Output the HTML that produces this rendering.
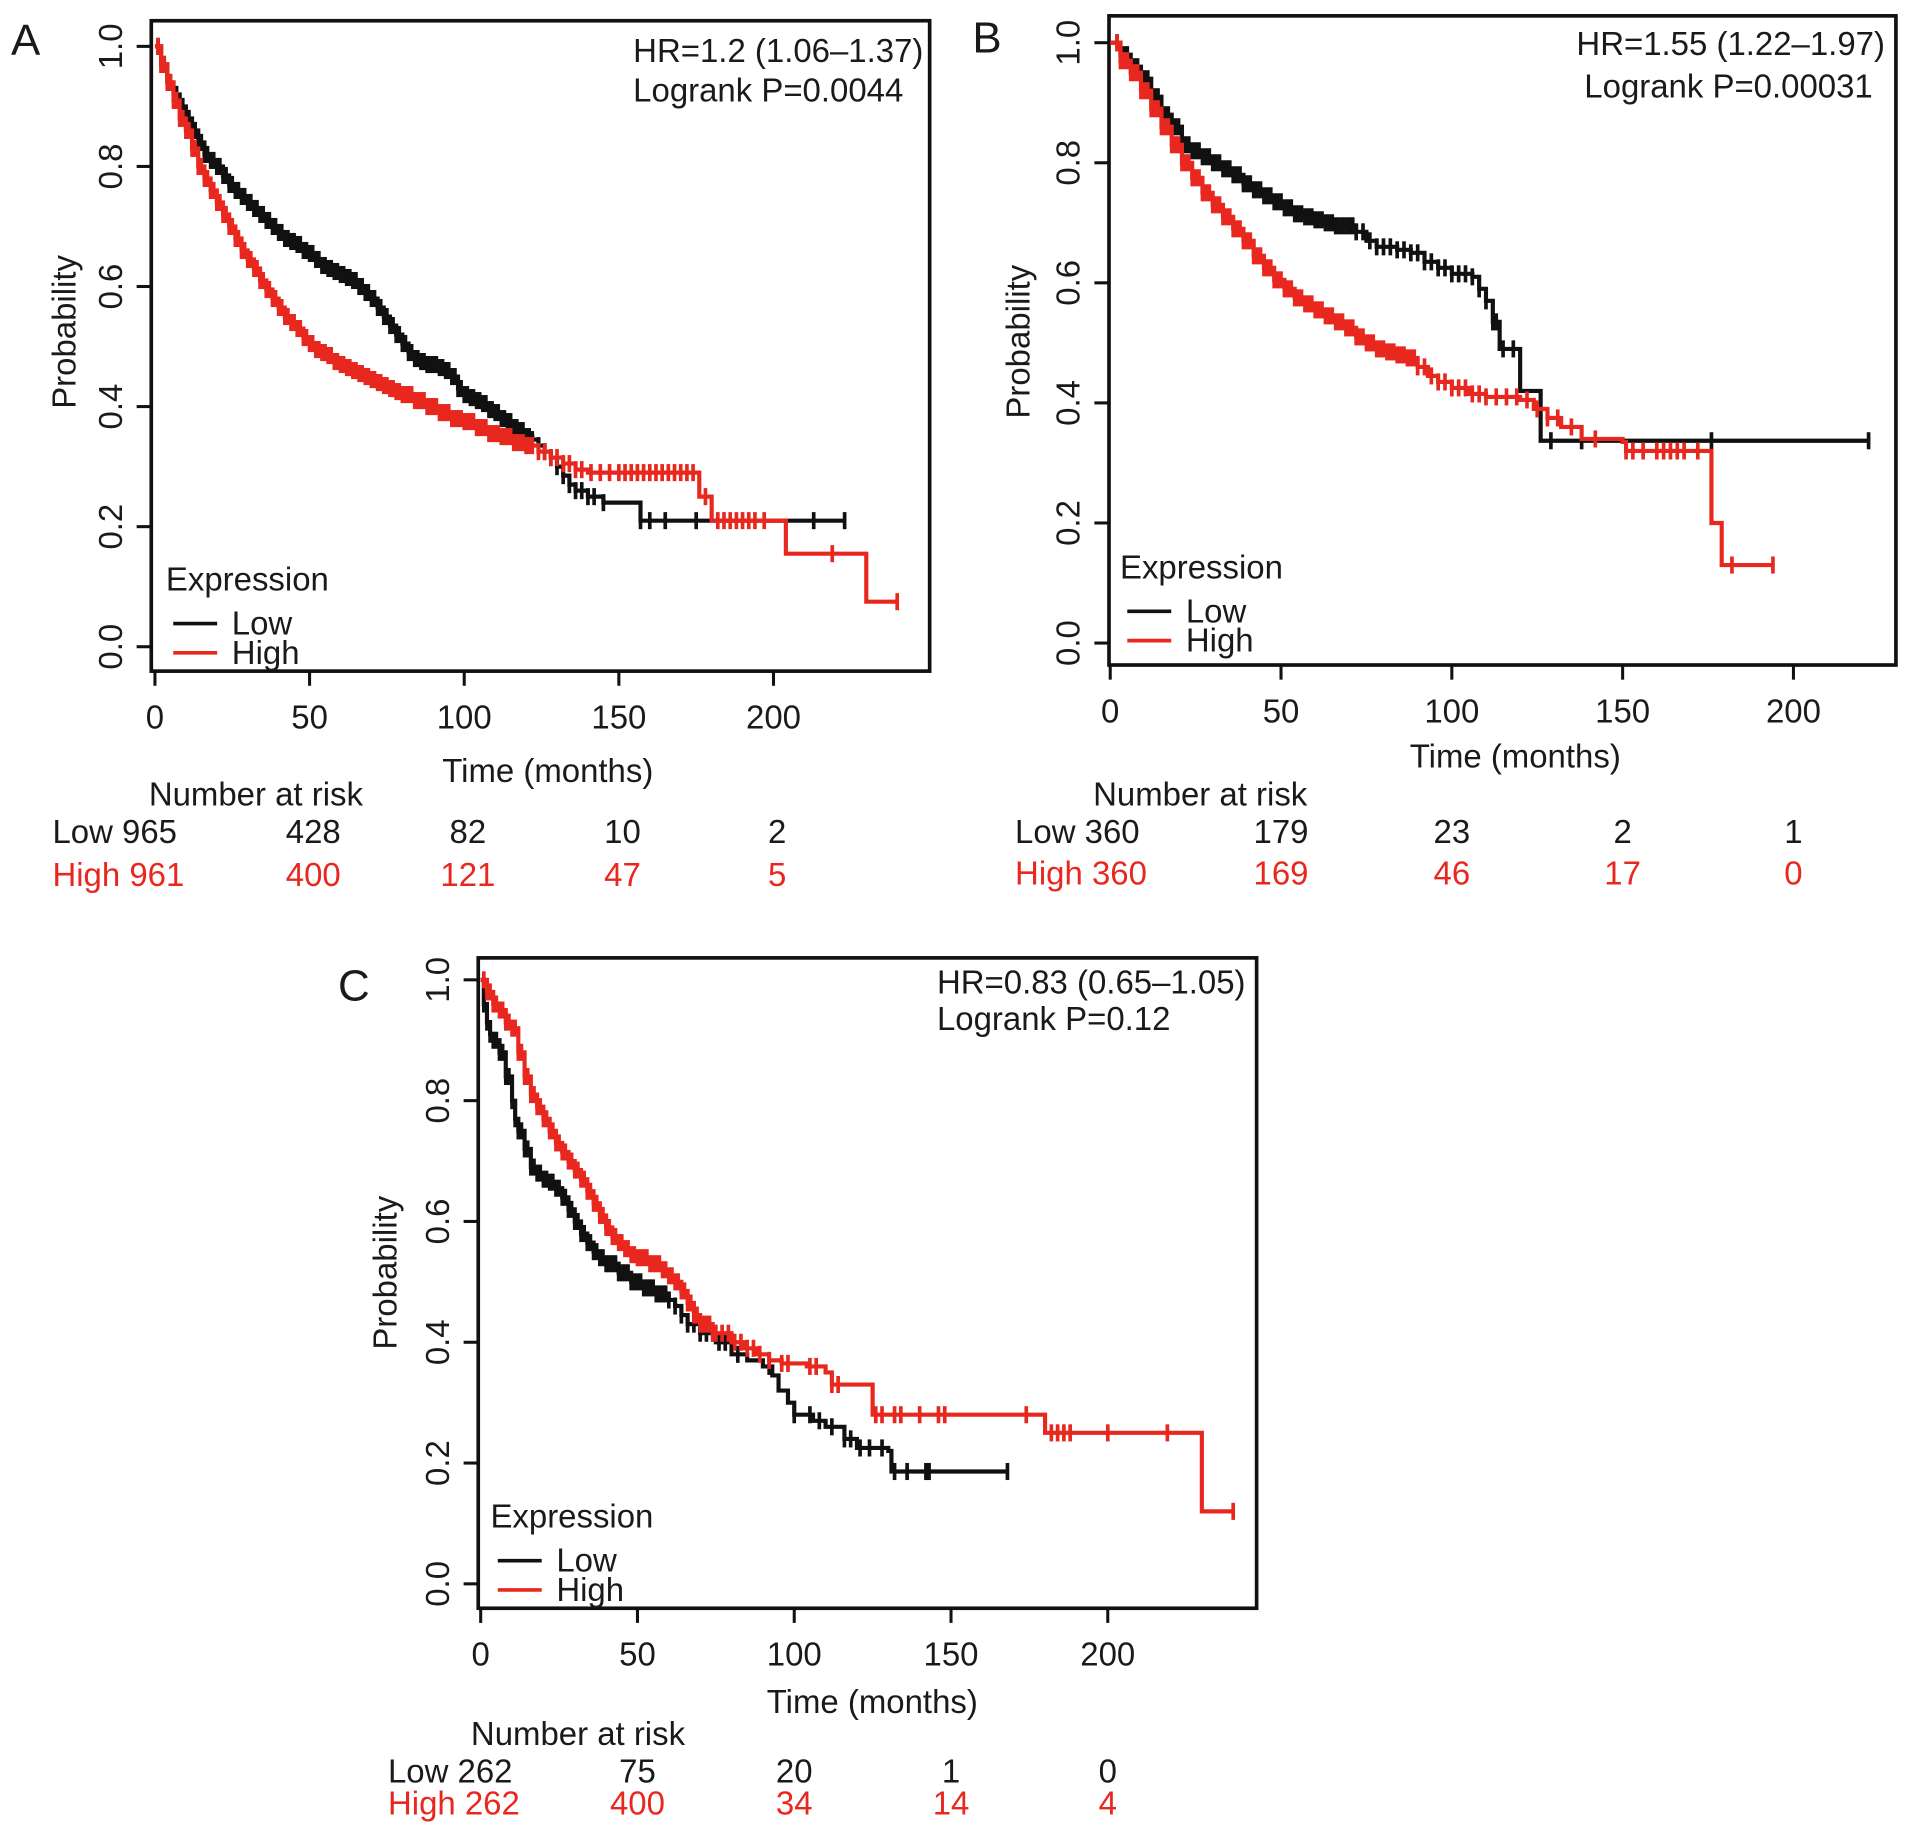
<!DOCTYPE html>
<html><head><meta charset="utf-8"><style>
html,body{margin:0;padding:0;background:#fff;}
svg{display:block;font-family:"Liberation Sans",Arial,sans-serif;}
</style></head><body>
<svg id="fig" width="1913" height="1834" viewBox="0 0 1568 1503" preserveAspectRatio="none" xmlns="http://www.w3.org/2000/svg"></svg>
<script>
// ---------- DATA ----------
// Panel A
const aLowT  = [0,2,4,6,8,10,12,14,16,18,20,22,24,26,28,30,32,34,36,38,40,42,44,46,48,50,52,54,56,58,60,62,64,66,68,70,72,74,76,78,80,82,84,86,88,90,92,94,96,98,100,102,104,106,108,110,112,114,116,118,120,122,124,126,128,130,132,134,136,140,145,157,223];
const aLowS  = [1,0.97,0.94,0.92,0.9,0.88,0.86,0.84,0.82,0.81,0.8,0.785,0.77,0.76,0.75,0.74,0.73,0.72,0.71,0.7,0.69,0.68,0.675,0.67,0.66,0.655,0.645,0.635,0.63,0.625,0.62,0.615,0.61,0.6,0.59,0.58,0.565,0.55,0.535,0.52,0.505,0.49,0.48,0.475,0.47,0.47,0.465,0.46,0.45,0.43,0.42,0.415,0.41,0.405,0.395,0.39,0.38,0.375,0.365,0.36,0.35,0.345,0.335,0.325,0.315,0.3,0.285,0.27,0.26,0.25,0.24,0.21,0.21];
const aHighT = [0,2,4,6,8,10,12,14,16,18,20,22,24,26,28,30,32,34,36,38,40,42,44,46,48,50,52,54,56,58,60,62,64,66,68,70,72,74,76,78,80,84,88,92,96,100,104,108,112,116,120,124,128,132,136,140,175,176,180,204,230,240];
const aHighS = [1,0.97,0.94,0.91,0.88,0.86,0.83,0.8,0.78,0.76,0.74,0.72,0.7,0.68,0.66,0.645,0.63,0.61,0.595,0.58,0.565,0.55,0.54,0.53,0.515,0.505,0.495,0.49,0.485,0.475,0.47,0.465,0.46,0.455,0.45,0.445,0.44,0.435,0.43,0.425,0.42,0.41,0.4,0.39,0.38,0.375,0.365,0.355,0.35,0.34,0.335,0.325,0.315,0.305,0.295,0.29,0.29,0.25,0.21,0.155,0.075,0.075];
const aLowC  = [1,2,3,4,5,6,7,8,9,10,11,12,13,14,15,16,17,18,19,20,21,22,23,24,25,26,27,28,29,30,31,32,33,34,35,36,37,38,39,40,41,42,43,44,45,46,47,48,49,50,51,52,53,54,55,56,57,58,59,60,61,62,63,64,65,66,67,68,69,70,71,72,73,74,75,76,77,78,79,80,81,82,83,84,85,86,87,88,89,90,91,92,93,94,95,96,97,98,99,100,101,102,103,104,105,106,107,108,109,110,111,112,113,114,115,116,117,118,119,120,121,122,124,126,128,130,132,134,136,138,140,142,145,157,160,165,175,213,223];
const aHighC = [1,2,3,4,5,6,7,8,9,10,11,12,13,14,15,16,17,18,19,20,21,22,23,24,25,26,27,28,29,30,31,32,33,34,35,36,37,38,39,40,41,42,43,44,45,46,47,48,49,50,51,52,53,54,55,56,57,58,59,60,61,62,63,64,65,66,67,68,69,70,71,72,73,74,75,76,77,78,79,80,81,82,83,84,85,86,87,88,89,90,91,92,93,94,95,96,97,98,99,100,101,102,103,104,105,106,107,108,109,110,111,112,113,114,115,116,117,118,119,120,121,122,124,126,128,130,132,134,136,138,141,144,147,150,152,154,156,158,160,162,164,166,168,170,172,174,178,182,184,186,188,190,192,194,197,219,240];
const aRiskLow  = [965,428,82,10,2];
const aRiskHigh = [961,400,121,47,5];
// Panel B
const bLowT  = [0,3,6,9,12,15,18,21,24,27,30,33,36,39,42,45,48,51,54,57,60,63,66,69,72,75,78,84,88,92,96,100,106,108,110,112,114,118,120,125,126,222];
const bLowS  = [1,0.98,0.96,0.94,0.91,0.88,0.86,0.83,0.82,0.81,0.8,0.79,0.78,0.765,0.755,0.745,0.735,0.725,0.715,0.71,0.705,0.7,0.695,0.695,0.685,0.67,0.66,0.655,0.65,0.635,0.625,0.615,0.61,0.59,0.57,0.535,0.49,0.49,0.42,0.42,0.337,0.337];
const bHighT = [0,3,6,9,12,15,18,21,24,27,30,33,36,39,42,45,48,51,54,57,60,63,66,69,72,75,78,81,84,87,90,93,96,100,105,110,120,124,128,132,138,150,151,175,176,179,194];
const bHighS = [1,0.97,0.95,0.92,0.89,0.86,0.83,0.8,0.775,0.75,0.73,0.71,0.69,0.67,0.645,0.625,0.605,0.59,0.575,0.565,0.555,0.545,0.535,0.525,0.51,0.5,0.49,0.485,0.48,0.475,0.46,0.445,0.435,0.425,0.415,0.41,0.405,0.39,0.375,0.36,0.34,0.335,0.32,0.32,0.2,0.13,0.13];
const bLowC  = [2,3,4,5,6,7,8,9,10,11,12,13,14,15,16,17,18,19,20,21,22,23,24,25,26,27,28,29,30,31,32,33,34,35,36,37,38,39,40,41,42,43,44,45,46,47,48,49,50,51,52,53,54,55,56,57,58,59,60,61,62,63,64,65,66,67,68,69,70,71,72,74,76,78,80,82,84,86,88,90,92,94,96,98,100,102,104,106,108,110,112,113,115,118,129,138,176,222];
const bHighC = [2,3,4,5,6,7,8,9,10,11,12,13,14,15,16,17,18,19,20,21,22,23,24,25,26,27,28,29,30,31,32,33,34,35,36,37,38,39,40,41,42,43,44,45,46,47,48,49,50,51,52,53,54,55,56,57,58,59,60,61,62,63,64,65,66,67,68,69,70,71,72,73,74,75,76,77,78,79,80,81,82,83,84,85,86,87,88,89,90,92,94,96,98,100,102,104,106,108,110,113,116,119,122,125,128,131,135,142,151,153,156,160,162,164,166,168,172,182,194];
const bRiskLow  = [360,179,23,2,1];
const bRiskHigh = [360,169,46,17,0];
// Panel C
const cLowT  = [0,1,2,3,4,6,8,10,11,12,14,16,18,20,22,24,26,28,30,32,34,36,38,40,44,48,52,56,60,62,64,66,70,75,80,85,90,93,95,98,100,106,110,116,120,130,131,168];
const cLowS  = [1,0.96,0.93,0.91,0.9,0.88,0.84,0.8,0.77,0.75,0.72,0.69,0.68,0.67,0.665,0.655,0.64,0.62,0.6,0.58,0.565,0.55,0.54,0.53,0.515,0.5,0.49,0.48,0.47,0.46,0.445,0.43,0.415,0.4,0.38,0.37,0.36,0.345,0.32,0.3,0.28,0.27,0.26,0.24,0.225,0.22,0.186,0.186];
const cHighT = [0,2,4,6,8,10,12,14,16,18,20,22,24,26,28,30,32,34,36,38,40,42,44,46,48,50,54,58,60,62,64,66,68,70,74,80,84,88,92,96,104,110,112,124,125,175,180,229,230,240];
const cHighS = [1,0.98,0.96,0.95,0.93,0.92,0.88,0.84,0.81,0.79,0.77,0.75,0.73,0.715,0.7,0.685,0.67,0.65,0.63,0.61,0.59,0.575,0.565,0.555,0.545,0.54,0.53,0.52,0.51,0.5,0.485,0.465,0.445,0.43,0.415,0.4,0.39,0.38,0.37,0.365,0.36,0.35,0.33,0.33,0.28,0.28,0.25,0.25,0.12,0.12];
const cLowC  = [1,2,3,4,5,6,7,8,9,10,11,12,13,14,15,16,17,18,19,20,21,22,23,24,25,26,27,28,29,30,31,32,33,34,35,36,37,38,39,40,41,42,43,44,45,46,47,48,49,50,51,52,53,54,55,56,57,58,59,60,62,64,66,68,70,72,74,76,78,82,92,100,105,108,112,116,118,121,124,128,132,136,142,143,168];
const cHighC = [1,2,3,4,5,6,7,8,9,10,11,12,13,14,15,16,17,18,19,20,21,22,23,24,25,26,27,28,29,30,31,32,33,34,35,36,37,38,39,40,41,42,43,44,45,46,47,48,49,50,51,52,53,54,55,56,57,58,59,60,61,62,63,64,65,66,67,68,69,70,71,72,73,74,75,77,79,81,83,85,87,89,92,96,98,105,107,112,114,126,128,132,134,140,146,148,174,182,184,186,188,200,219,240];
const cRiskLow  = [262,75,20,1,0];
const cRiskHigh = [262,400,34,14,4];
const xTicks = [0,50,100,150,200];
const yTicks = [0,0.2,0.4,0.6,0.8,1.0];

const NS = "http://www.w3.org/2000/svg";
const svg = document.getElementById('fig');
function mk(tag, attrs, parent){
  const e = document.createElementNS(NS, tag);
  for (const k in attrs) e.setAttribute(k, attrs[k]);
  (parent||svg).appendChild(e);
  return e;
}
function txt(s, x, y, opts, parent){
  const e = mk('text', Object.assign({x:x, y:y, 'font-size':27, fill:'#1a1a1a'}, opts||{}), parent);
  e.textContent = s;
  return e;
}

function panel(cfg){
  const g = mk('g', {});
  
  
  const X = t => cfg.x0 + t * cfg.kx;
  const Y = p => cfg.y0 - p * cfg.ky;
  const box = mk('rect', {x:cfg.bx1, y:cfg.by1, width:cfg.bx2-cfg.bx1, height:cfg.by2-cfg.by1, fill:'none', stroke:'#111', 'stroke-width':3}, g);
  
  
  const L = txt(cfg.id, cfg.letter[0], cfg.letter[1], {'font-size':36}, g);
  
  
  xTicks.forEach(t => {
    const tk = mk('line', {x1:X(t), x2:X(t), y1:cfg.by2, y2:cfg.by2+12, stroke:'#111', 'stroke-width':2.5}, g);
    
    
    const lb = txt(String(t), X(t), cfg.by2+47, {'text-anchor':'middle'}, g);
    
    
  });
  yTicks.forEach(p => {
    const tk = mk('line', {x1:cfg.bx1-12, x2:cfg.bx1, y1:Y(p), y2:Y(p), stroke:'#111', 'stroke-width':2.5}, g);
    
    
    const lx = cfg.bx1-24, ly = Y(p);
    const lb = txt(p.toFixed(1), lx, ly, {'text-anchor':'middle', transform:'rotate(-90 '+lx+' '+ly+')'}, g);
    
    
  });
  const yt = txt('Probability', cfg.ytitle[0], cfg.ytitle[1], {'text-anchor':'middle', transform:'rotate(-90 '+cfg.ytitle[0]+' '+cfg.ytitle[1]+')'}, g);
  
  
  const xt = txt('Time (months)', cfg.xtitle[0], cfg.xtitle[1], {'text-anchor':'middle'}, g);
  
  
  const h1 = txt(cfg.hr[0], cfg.hrPos[0], cfg.hrPos[1], {'text-anchor':cfg.hrAnchor}, g);
  
  
  const h2 = txt(cfg.hr[1], cfg.hrPos[2], cfg.hrPos[3], {'text-anchor':cfg.hrAnchor}, g);
  
  
  function surv(T, S, t){ let s = S[0]; for (let i=0;i<T.length;i++){ if (T[i] <= t) s = S[i]; } return s; }
  function series(T, S, C, color, name){
    let d = 'M' + X(T[0]) + ',' + Y(S[0]);
    for (let i=1;i<T.length;i++){ d += ' H' + X(T[i]) + ' V' + Y(S[i]); }
    const p = mk('path', {d:d, fill:'none', stroke:color, 'stroke-width':3.4}, g);
    
    
    C.forEach(t => {
      const s = surv(T, S, t);
      const c = mk('line', {x1:X(t), x2:X(t), y1:Y(s)-7, y2:Y(s)+7, stroke:color, 'stroke-width':3}, g);
      
      
    });
  }
  series(cfg.low[0], cfg.low[1], cfg.low[2], '#111', 'low-expression');
  series(cfg.high[0], cfg.high[1], cfg.high[2], '#e8281e', 'high-expression');
  const lg = cfg.legend;
  const le = txt('Expression', lg[0], lg[1], {}, g);
  
  
  [['Low','#111',0],['High','#e8281e',1]].forEach(([n,c,i]) => {
    const yy = lg[1] + 27 + i*24;
    const ln = mk('line', {x1:lg[0]+6, x2:lg[0]+42, y1:yy, y2:yy, stroke:c, 'stroke-width':3}, g);
    
    
    const lt = txt(n, lg[0]+54, yy+9, {}, g);
    
    
  });
  const r = cfg.risk;
  const rt = txt('Number at risk', r.title[0], r.title[1], {}, g);
  
  
  [[cfg.riskLow,'Low','#1a1a1a',r.y1],[cfg.riskHigh,'High','#e8281e',r.y2]].forEach(([arr,n,c,yy]) => {
    const lab = txt(n + ' ' + arr[0], r.lx, yy, {fill:c}, g);
    
    
    for (let i=1;i<arr.length;i++){
      const v = txt(String(arr[i]), X(xTicks[i]) + r.dx, yy, {fill:c, 'text-anchor':'middle'}, g);
      
      
    }
  });
}

panel({id:'A', bx1:124, bx2:762, by1:17, by2:550, x0:127, kx:2.535, y0:530, ky:492,
  letter:[9,45], ytitle:[62,272], xtitle:[449,641],
  hr:['HR=1.2 (1.06\u20131.37)','Logrank P=0.0044'], hrPos:[519,51,519,83], hrAnchor:'start',
  low:[aLowT,aLowS,aLowC], high:[aHighT,aHighS,aHighC],
  legend:[136,484], riskLow:aRiskLow, riskHigh:aRiskHigh,
  risk:{title:[122,660], lx:43, y1:691, y2:726, dx:3}});
panel({id:'B', bx1:909, bx2:1554, by1:13, by2:545, x0:910, kx:2.8, y0:527, ky:492,
  letter:[797,43], ytitle:[844,280], xtitle:[1242,629],
  hr:['HR=1.55 (1.22\u20131.97)','Logrank P=0.00031'], hrPos:[1545,45,1535,80], hrAnchor:'end',
  low:[bLowT,bLowS,bLowC], high:[bHighT,bHighS,bHighC],
  legend:[918,474], riskLow:bRiskLow, riskHigh:bRiskHigh,
  risk:{title:[896,660], lx:832, y1:691, y2:725, dx:0}});
panel({id:'C', bx1:392, bx2:1030, by1:785, by2:1318, x0:394, kx:2.57, y0:1298, ky:495,
  letter:[277,820], ytitle:[325,1043], xtitle:[715,1404],
  hr:['HR=0.83 (0.65\u20131.05)','Logrank P=0.12'], hrPos:[768,814,768,844], hrAnchor:'start',
  low:[cLowT,cLowS,cLowC], high:[cHighT,cHighS,cHighC],
  legend:[402,1252], riskLow:cRiskLow, riskHigh:cRiskHigh,
  risk:{title:[386,1430], lx:318, y1:1461, y2:1487, dx:0}});
</script>
</body></html>
